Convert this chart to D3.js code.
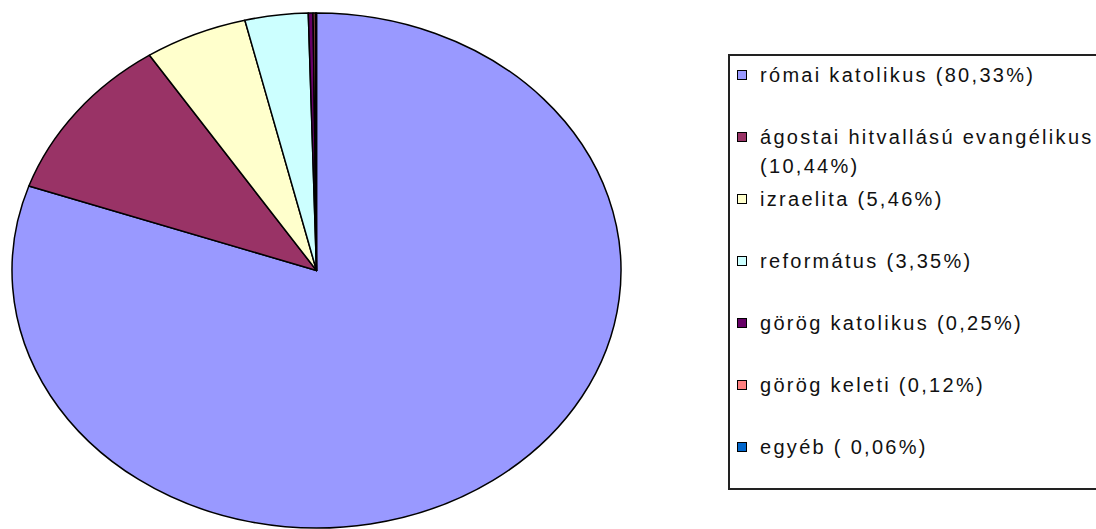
<!DOCTYPE html>
<html>
<head>
<meta charset="utf-8">
<script src="https://cdn.jsdelivr.net/npm/d3@7"></script>
<style>
html,body{margin:0;padding:0;background:#fff;}
svg{display:block;}
</style>
</head>
<body>
<svg id="chart" width="1096" height="529"></svg>
<script>
const categories = ["római katolikus", "ágostai hitvallású evangélikus", "izraelita", "református", "görög katolikus", "görög keleti", "egyéb"];
const values = [80.33, 10.44, 5.46, 3.35, 0.25, 0.12, 0.06];
const legendLabels = [
  ["római katolikus (80,33%)"],
  ["ágostai hitvallású evangélikus", "(10,44%)"],
  ["izraelita (5,46%)"],
  ["református (3,35%)"],
  ["görög katolikus (0,25%)"],
  ["görög keleti (0,12%)"],
  ["egyéb ( 0,06%)"]
];
const colors = ["#9999FF", "#993366", "#FFFFCC", "#CCFFFF", "#660066", "#FF8080", "#0066CC"];

const svg = d3.select("#chart");
const cx = 316.5, cy = 270.5, rx = 304.5, ry = 257.5;

const pie = d3.pie().sort(null).value(d => d)(values);
const arc = d3.arc().innerRadius(0).outerRadius(ry);
const color = d3.scaleOrdinal().domain(categories).range(colors);

const g = svg.append("g").attr("transform", `translate(${cx},${cy}) scale(${rx/ry},1)`);
g.selectAll("path").data(pie).join("path")
  .attr("d", arc)
  .attr("fill", (d, i) => color(categories[i]))
  .attr("stroke", "#000")
  .attr("stroke-width", 1.5)
  .attr("vector-effect", "non-scaling-stroke")
  .attr("stroke-linejoin", "round");

// Legend
const lg = svg.append("g");
lg.append("rect").attr("x", 729).attr("y", 55).attr("width", 400).attr("height", 434)
  .attr("fill", "#fff").attr("stroke", "#222").attr("stroke-width", 2);

const rowY = d3.scalePoint().domain(categories).range([75, 447]);
const items = lg.selectAll("g.item").data(categories).join("g").attr("class", "item");
items.append("rect")
  .attr("x", 737.5).attr("y", d => rowY(d) - 4.5)
  .attr("width", 9).attr("height", 9)
  .attr("fill", d => color(d)).attr("stroke", "#000").attr("stroke-width", 1);
items.each(function(d, i) {
  const lines = legendLabels[i];
  const t = d3.select(this).append("text")
    .attr("x", 760).attr("y", rowY(d))
    .attr("font-family", "'Liberation Sans', Arial, sans-serif")
    .attr("font-size", 20)
    .attr("letter-spacing", 2.3)
    .attr("fill", "#111");
  lines.forEach((ln, j) => {
    t.append("tspan").attr("x", 760).attr("dy", j === 0 ? "0.36em" : 29).text(ln);
  });
});
</script>
</body>
</html>
